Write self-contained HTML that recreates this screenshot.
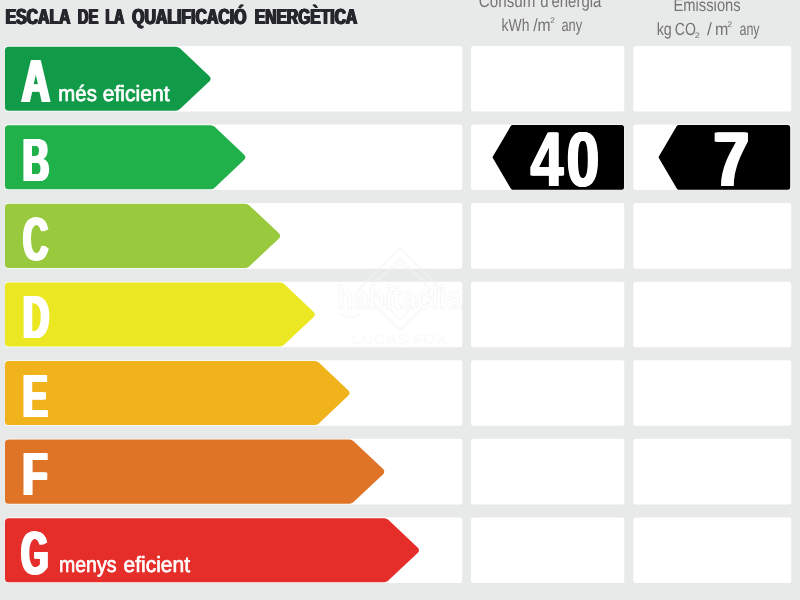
<!DOCTYPE html>
<html lang="ca">
<head>
<meta charset="utf-8">
<title>Escala de la qualificació energètica</title>
<style>
html,body{margin:0;padding:0;background:#e8e9e9;}
body{width:800px;height:600px;overflow:hidden;}
svg{display:block;}
text{font-family:"Liberation Sans",sans-serif;text-rendering:geometricPrecision;}
.title{font-weight:bold;fill:#26272d;}
.hdr{fill:#747474;}
.ltr{font-weight:bold;fill:#fff;}
.lbl{fill:#fff;stroke:#fff;stroke-width:0.7px;stroke-linejoin:round;}
.num{font-weight:bold;fill:#fff;}
</style>
</head>
<body>
<svg width="800" height="600" viewBox="0 0 800 600">
<defs>
<filter id="softL" x="-20%" y="-20%" width="140%" height="140%"><feGaussianBlur stdDeviation="0.45"/></filter>
<filter id="softD" x="-20%" y="-20%" width="140%" height="140%"><feGaussianBlur stdDeviation="0.5"/></filter>
<filter id="soft" x="-5%" y="-20%" width="110%" height="140%"><feGaussianBlur stdDeviation="0.35"/></filter>
</defs>
<rect x="0" y="0" width="800" height="600" fill="#e8e9e9"/>
<g filter="url(#soft)" style="text-shadow:0.55px 0 0 #26272d,-0.55px 0 0 #26272d,1.1px 0 0 #26272d,-1.1px 0 0 #26272d">
<text class="title"><tspan x="5.58" y="23.8" font-size="21.7" textLength="64.9" lengthAdjust="spacingAndGlyphs">ESCALA</tspan> <tspan x="77.73" y="23.8" font-size="21.7" textLength="20.61" lengthAdjust="spacingAndGlyphs">DE</tspan> <tspan x="105.42" y="23.8" font-size="21.7" textLength="18.84" lengthAdjust="spacingAndGlyphs">LA</tspan> <tspan x="132.18" y="23.8" font-size="21.7" textLength="114.28" lengthAdjust="spacingAndGlyphs">QUALIFICACIÓ</tspan> <tspan x="254.82" y="23.8" font-size="21.7" textLength="102.32" lengthAdjust="spacingAndGlyphs">ENERGÈTICA</tspan></text>
</g>
<g filter="url(#soft)">
<text class="hdr"><tspan x="478.82" y="6.65" font-size="17.8" textLength="56.55" lengthAdjust="spacingAndGlyphs">Consum</tspan> <tspan x="540.35" y="6.65" font-size="17.8" textLength="60.98" lengthAdjust="spacingAndGlyphs">d'energia</tspan></text>
<text class="hdr"><tspan x="501.5" y="30.6" font-size="17.5" textLength="27.88" lengthAdjust="spacingAndGlyphs">kWh</tspan> <tspan x="533.25" y="30.6" font-size="17.5" textLength="17.42" lengthAdjust="spacingAndGlyphs">/m</tspan><tspan x="550.01" y="22.8" font-size="8" textLength="4.96" lengthAdjust="spacingAndGlyphs">2</tspan> <tspan x="561.41" y="30.6" font-size="17.5" textLength="20.76" lengthAdjust="spacingAndGlyphs">any</tspan></text>
<text class="hdr"><tspan x="673.48" y="10.5" font-size="17.8" textLength="67.21" lengthAdjust="spacingAndGlyphs">Emissions</tspan></text>
<text class="hdr"><tspan x="656.65" y="35.25" font-size="17.5" textLength="15.17" lengthAdjust="spacingAndGlyphs">kg</tspan> <tspan x="674.77" y="35.25" font-size="17.5" textLength="21.04" lengthAdjust="spacingAndGlyphs">CO</tspan><tspan x="694.74" y="37.6" font-size="8" textLength="5.1" lengthAdjust="spacingAndGlyphs">2</tspan> <tspan x="706.91" y="35.25" font-size="17.5" textLength="4.84" lengthAdjust="spacingAndGlyphs">/</tspan> <tspan x="714.92" y="35.25" font-size="17.5" textLength="13.32" lengthAdjust="spacingAndGlyphs">m</tspan><tspan x="727.37" y="26.7" font-size="8" textLength="4.89" lengthAdjust="spacingAndGlyphs">2</tspan> <tspan x="739.51" y="35.25" font-size="17.5" textLength="20.11" lengthAdjust="spacingAndGlyphs">any</tspan></text>
</g>
<rect x="5" y="45.90" width="457.30" height="65.60" rx="2.5" ry="2.5" fill="#fff"/>
<rect x="471" y="45.90" width="153.30" height="65.60" rx="2.5" ry="2.5" fill="#fff"/>
<rect x="633.3" y="45.90" width="158.00" height="65.60" rx="2.5" ry="2.5" fill="#fff"/>
<rect x="5" y="124.48" width="457.30" height="65.60" rx="2.5" ry="2.5" fill="#fff"/>
<rect x="471" y="124.48" width="153.30" height="65.60" rx="2.5" ry="2.5" fill="#fff"/>
<rect x="633.3" y="124.48" width="158.00" height="65.60" rx="2.5" ry="2.5" fill="#fff"/>
<rect x="5" y="203.06" width="457.30" height="65.60" rx="2.5" ry="2.5" fill="#fff"/>
<rect x="471" y="203.06" width="153.30" height="65.60" rx="2.5" ry="2.5" fill="#fff"/>
<rect x="633.3" y="203.06" width="158.00" height="65.60" rx="2.5" ry="2.5" fill="#fff"/>
<rect x="5" y="281.64" width="457.30" height="65.60" rx="2.5" ry="2.5" fill="#fff"/>
<rect x="471" y="281.64" width="153.30" height="65.60" rx="2.5" ry="2.5" fill="#fff"/>
<rect x="633.3" y="281.64" width="158.00" height="65.60" rx="2.5" ry="2.5" fill="#fff"/>
<rect x="5" y="360.22" width="457.30" height="65.60" rx="2.5" ry="2.5" fill="#fff"/>
<rect x="471" y="360.22" width="153.30" height="65.60" rx="2.5" ry="2.5" fill="#fff"/>
<rect x="633.3" y="360.22" width="158.00" height="65.60" rx="2.5" ry="2.5" fill="#fff"/>
<rect x="5" y="438.80" width="457.30" height="65.60" rx="2.5" ry="2.5" fill="#fff"/>
<rect x="471" y="438.80" width="153.30" height="65.60" rx="2.5" ry="2.5" fill="#fff"/>
<rect x="633.3" y="438.80" width="158.00" height="65.60" rx="2.5" ry="2.5" fill="#fff"/>
<rect x="5" y="517.38" width="457.30" height="65.60" rx="2.5" ry="2.5" fill="#fff"/>
<rect x="471" y="517.38" width="153.30" height="65.60" rx="2.5" ry="2.5" fill="#fff"/>
<rect x="633.3" y="517.38" width="158.00" height="65.60" rx="2.5" ry="2.5" fill="#fff"/>
<path d="M5.00 50.15 A3.5 3.5 0 0 1 8.50 46.65 L175.82 46.65 A6 6 0 0 1 179.93 48.28 L209.50 76.15 A3.5 3.5 0 0 1 209.50 81.25 L179.93 109.12 A6 6 0 0 1 175.82 110.75 L8.50 110.75 A3.5 3.5 0 0 1 5.00 107.25 Z" fill="#119b48"/>
<g filter="url(#softL)"><text class="ltr" x="0" y="102.45" font-size="60.881" transform="translate(21.691 0) scale(0.6457 1)" style="text-shadow:1.239px 0 0 #fff,-1.239px 0 0 #fff,2.478px 0 0 #fff,-2.478px 0 0 #fff">A</text></g>
<path d="M5.00 128.73 A3.5 3.5 0 0 1 8.50 125.23 L210.55 125.23 A6 6 0 0 1 214.66 126.86 L244.23 154.73 A3.5 3.5 0 0 1 244.23 159.83 L214.66 187.70 A6 6 0 0 1 210.55 189.33 L8.50 189.33 A3.5 3.5 0 0 1 5.00 185.83 Z" fill="#21b14b"/>
<g filter="url(#softL)"><text class="ltr" x="0" y="181.03" font-size="60.881" transform="translate(22.709 0) scale(0.6039 1)" style="text-shadow:1.325px 0 0 #fff,-1.325px 0 0 #fff,2.649px 0 0 #fff,-2.649px 0 0 #fff">B</text></g>
<path d="M5.00 207.31 A3.5 3.5 0 0 1 8.50 203.81 L245.28 203.81 A6 6 0 0 1 249.39 205.44 L278.96 233.31 A3.5 3.5 0 0 1 278.96 238.41 L249.39 266.28 A6 6 0 0 1 245.28 267.91 L8.50 267.91 A3.5 3.5 0 0 1 5.00 264.41 Z" fill="#99c93c"/>
<g filter="url(#softL)"><text class="ltr" x="0" y="259.62" font-size="60.881" transform="translate(22.994 0) scale(0.572 1)" style="text-shadow:1.399px 0 0 #fff,-1.399px 0 0 #fff,2.797px 0 0 #fff,-2.797px 0 0 #fff">C</text></g>
<path d="M5.00 285.89 A3.5 3.5 0 0 1 8.50 282.39 L280.01 282.39 A6 6 0 0 1 284.12 284.02 L313.69 311.89 A3.5 3.5 0 0 1 313.69 316.99 L284.12 344.86 A6 6 0 0 1 280.01 346.49 L8.50 346.49 A3.5 3.5 0 0 1 5.00 342.99 Z" fill="#ebe722"/>
<g filter="url(#softL)"><text class="ltr" x="0" y="338.19" font-size="60.881" transform="translate(22.788 0) scale(0.6 1)" style="text-shadow:1.333px 0 0 #fff,-1.333px 0 0 #fff,2.667px 0 0 #fff,-2.667px 0 0 #fff">D</text></g>
<path d="M5.00 364.47 A3.5 3.5 0 0 1 8.50 360.97 L314.74 360.97 A6 6 0 0 1 318.85 362.60 L348.42 390.47 A3.5 3.5 0 0 1 348.42 395.57 L318.85 423.44 A6 6 0 0 1 314.74 425.07 L8.50 425.07 A3.5 3.5 0 0 1 5.00 421.57 Z" fill="#f0b31c"/>
<g filter="url(#softL)"><text class="ltr" x="0" y="416.77" font-size="60.881" transform="translate(22.705 0) scale(0.6175 1)" style="text-shadow:1.296px 0 0 #fff,-1.296px 0 0 #fff,2.591px 0 0 #fff,-2.591px 0 0 #fff">E</text></g>
<path d="M5.00 443.05 A3.5 3.5 0 0 1 8.50 439.55 L349.47 439.55 A6 6 0 0 1 353.58 441.18 L383.15 469.05 A3.5 3.5 0 0 1 383.15 474.15 L353.58 502.02 A6 6 0 0 1 349.47 503.65 L8.50 503.65 A3.5 3.5 0 0 1 5.00 500.15 Z" fill="#e07426"/>
<g filter="url(#softL)"><text class="ltr" x="0" y="495.35" font-size="60.881" transform="translate(22.225 0) scale(0.6849 1)" style="text-shadow:1.168px 0 0 #fff,-1.168px 0 0 #fff,2.336px 0 0 #fff,-2.336px 0 0 #fff">F</text></g>
<path d="M5.00 521.63 A3.5 3.5 0 0 1 8.50 518.13 L384.20 518.13 A6 6 0 0 1 388.31 519.76 L417.88 547.63 A3.5 3.5 0 0 1 417.88 552.73 L388.31 580.60 A6 6 0 0 1 384.20 582.23 L8.50 582.23 A3.5 3.5 0 0 1 5.00 578.73 Z" fill="#e52e2a"/>
<g filter="url(#softL)"><text class="ltr" x="0" y="573.93" font-size="60.881" transform="translate(21.102 0) scale(0.5756 1)" style="text-shadow:1.390px 0 0 #fff,-1.390px 0 0 #fff,2.780px 0 0 #fff,-2.780px 0 0 #fff">G</text></g>
<g filter="url(#soft)">
<text class="lbl"><tspan x="58.35" y="101.15" font-size="22" textLength="38.47" lengthAdjust="spacingAndGlyphs">més</tspan> <tspan x="102.75" y="101.15" font-size="22" textLength="66.75" lengthAdjust="spacingAndGlyphs">eficient</tspan></text>
<text class="lbl"><tspan x="58.98" y="571.88" font-size="22" textLength="57.44" lengthAdjust="spacingAndGlyphs">menys</tspan> <tspan x="123.49" y="571.88" font-size="22" textLength="66.51" lengthAdjust="spacingAndGlyphs">eficient</tspan></text>
</g>
<path d="M510.77 126.11 A2.5 2.5 0 0 1 512.93 124.88 L621.50 124.88 A2.5 2.5 0 0 1 624.00 127.38 L624.00 187.18 A2.5 2.5 0 0 1 621.50 189.68 L512.93 189.68 A2.5 2.5 0 0 1 510.77 188.45 L492.85 158.04 A1.5 1.5 0 0 1 492.85 156.52 Z" fill="#000"/>
<path d="M676.77 126.11 A2.5 2.5 0 0 1 678.93 124.88 L787.70 124.88 A2.5 2.5 0 0 1 790.20 127.38 L790.20 187.18 A2.5 2.5 0 0 1 787.70 189.68 L678.93 189.68 A2.5 2.5 0 0 1 676.77 188.45 L658.85 158.04 A1.5 1.5 0 0 1 658.85 156.52 Z" fill="#000"/>
<g filter="url(#softD)"><text class="num" y="186.08" font-size="77.335" transform="translate(530.592 0) scale(0.7651 1)" style="text-shadow:0.654px 0 0 #fff,-0.654px 0 0 #fff,1.307px 0 0 #fff,-1.307px 0 0 #fff"><tspan x="0">4</tspan><tspan x="47.043">0</tspan></text></g>
<g filter="url(#softD)"><text class="num" x="0" y="186.08" font-size="77.335" transform="translate(713.899 0) scale(0.8134 1)" style="text-shadow:1.168px 0 0 #fff,-1.168px 0 0 #fff,2.336px 0 0 #fff,-2.336px 0 0 #fff">7</text></g>
<g opacity="0.45" filter="url(#soft)">
<path d="M400 248 L441 289 L400 330 L359 289 Z" fill="none" stroke="#f2f3f3" stroke-width="2.5"/>
<path d="M400 259 L430 289 L400 319 L370 289 Z" fill="none" stroke="#f4f5f5" stroke-width="2"/>
<path d="M372 282 L400 264 L428 282" fill="none" stroke="#f4f5f5" stroke-width="2"/>
<text x="337" y="309" font-size="33.5" textLength="124.5" lengthAdjust="spacingAndGlyphs" fill="#fff" stroke="#ebecec" stroke-width="1.1" stroke-linejoin="round" font-weight="bold">habitaclia</text>
<path d="M340 314 Q350 320 361 314" fill="none" stroke="#f1f2f2" stroke-width="2" stroke-linecap="round"/>
<text x="351.5" y="344" font-size="14" textLength="95.5" lengthAdjust="spacingAndGlyphs" fill="#f6f6f6" font-weight="bold">LUCAS FOX</text>
</g>
</svg>
</body>
</html>
